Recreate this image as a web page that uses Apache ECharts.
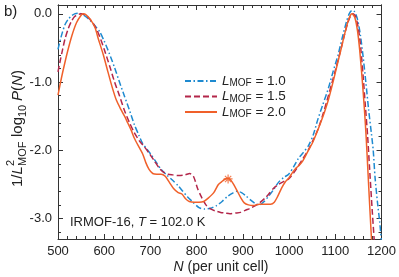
<!DOCTYPE html>
<html><head><meta charset="utf-8">
<script src="https://cdn.jsdelivr.net/npm/echarts@6/dist/echarts.min.js"></script>
<style>html,body{margin:0;padding:0;background:#fff}#c{width:399px;height:277px}</style>
</head><body><div id="c"></div>
<script>
// ---- data ----
const nL10 = [500,505,510,515,522,529,536,543,550,558,567,577,590,600,611,622,633,644,655,665,675,683,692,701,712,723,735,748,760,770,780,792,805,817,830,843,855,866,877,887,897,907,917,927,936,946,956,966,977,988,999,1010,1020,1031,1042,1052,1062,1073,1085,1095,1106,1115,1124,1130,1136,1142,1148,1154,1160,1166,1172,1178,1182,1186,1191,1196,1200];
const pL10 = [-0.52,-0.38,-0.26,-0.16,-0.08,-0.03,0.0,0.01,0.0,-0.03,-0.08,-0.15,-0.26,-0.4,-0.58,-0.78,-1.0,-1.21,-1.42,-1.62,-1.78,-1.9,-1.98,-2.06,-2.17,-2.28,-2.36,-2.44,-2.52,-2.6,-2.68,-2.76,-2.84,-2.86,-2.85,-2.81,-2.75,-2.68,-2.63,-2.6,-2.62,-2.67,-2.73,-2.78,-2.8,-2.75,-2.67,-2.58,-2.47,-2.4,-2.35,-2.24,-2.12,-2.03,-1.93,-1.78,-1.55,-1.33,-1.09,-0.85,-0.6,-0.35,-0.12,0.0,0.05,0.03,-0.08,-0.3,-0.62,-1.0,-1.4,-1.75,-2.0,-2.4,-2.75,-3.05,-3.35];

const nL15 = [500,505,510,515,522,529,536,543,550,556,565,575,583,590,600,612,622,633,644,655,665,676,687,698,708,719,728,738,748,762,775,785,793,802,810,820,830,841,852,862,872,884,895,905,916,927,938,948,956,966,977,988,999,1010,1020,1030,1042,1052,1062,1072,1082,1092,1102,1112,1120,1127,1133,1138,1144,1150,1155,1160,1165,1170,1174,1180,1185];
const pL15 = [-0.85,-0.68,-0.52,-0.37,-0.22,-0.11,-0.04,-0.01,0.0,-0.01,-0.05,-0.13,-0.22,-0.33,-0.52,-0.77,-0.99,-1.2,-1.42,-1.6,-1.74,-1.86,-1.95,-2.05,-2.15,-2.26,-2.32,-2.35,-2.36,-2.37,-2.36,-2.34,-2.38,-2.56,-2.68,-2.8,-2.86,-2.89,-2.91,-2.92,-2.93,-2.92,-2.91,-2.88,-2.85,-2.81,-2.76,-2.7,-2.64,-2.56,-2.5,-2.46,-2.42,-2.33,-2.23,-2.12,-1.99,-1.85,-1.7,-1.5,-1.27,-1.03,-0.78,-0.52,-0.3,-0.13,-0.03,0.0,-0.04,-0.22,-0.5,-0.9,-1.35,-1.8,-2.25,-2.9,-3.4];

const nL20 = [500,505,510,520,530,540,550,555,560,570,580,587,598,608,617,626,636,644,651,658,665,675,683,690,697,705,714,723,732,741,750,760,768,776,784,795,805,815,825,837,847,856,862,868,874,880,888,895,903,912,923,935,948,960,968,975,984,992,1000,1008,1015,1022,1030,1038,1045,1052,1060,1068,1077,1085,1095,1104,1113,1120,1127,1132,1136,1142,1148,1153,1158,1163,1167,1172,1178,1181];
const pL20 = [-1.19,-1.02,-0.86,-0.57,-0.32,-0.13,-0.02,0.0,-0.01,-0.08,-0.2,-0.36,-0.6,-0.85,-1.07,-1.26,-1.4,-1.5,-1.6,-1.7,-1.82,-1.95,-2.05,-2.18,-2.28,-2.34,-2.35,-2.35,-2.38,-2.47,-2.56,-2.62,-2.64,-2.71,-2.75,-2.76,-2.76,-2.75,-2.7,-2.62,-2.5,-2.45,-2.42,-2.41,-2.44,-2.5,-2.6,-2.69,-2.77,-2.8,-2.81,-2.79,-2.79,-2.79,-2.76,-2.68,-2.55,-2.46,-2.4,-2.32,-2.26,-2.22,-2.15,-2.05,-1.96,-1.87,-1.74,-1.6,-1.43,-1.26,-1.0,-0.75,-0.5,-0.3,-0.12,-0.03,0.0,-0.05,-0.25,-0.55,-0.95,-1.4,-1.84,-2.5,-3.27,-3.6];

const starN = [868];
const starP = [-2.42];

const seriesNames = ['1.0','1.5','2.0'];
const xTickLabels = [500,600,700,800,900,1000,1100,1200];
const yTickLabels = [-3,-2,-1,0];
const yMinorTicks = [-3.2,-3.0,-2.8,-2.6,-2.4,-2.2,-2.0,-1.8,-1.6,-1.4,-1.2,-1.0,-0.8,-0.6,-0.4,-0.2,0.0];

// ---- chart ----
const FONT = 'Liberation Sans, Arial, Helvetica, sans-serif';
const AX = '#333';
const zip = (a,b) => a.map((v,i)=>[v,b[i]]);
const colors = ['#1e8ad0','#b3264a','#f0602a'];

function xAx(pos, labels){
  return {type:'value', min:500, max:1200, interval:100, position:pos,
    axisLine:{show:true, onZero:false, lineStyle:{color:AX,width:1}},
    axisTick:{show:true, inside:true, length:5, lineStyle:{color:AX}},
    minorTick:{show:true, splitNumber:5, length:3, lineStyle:{color:AX}},
    axisLabel:{show:labels, fontSize:13, color:'#222', fontFamily:FONT, margin:6,
      customValues: xTickLabels, formatter: v => String(v)},
    splitLine:{show:false}, minorSplitLine:{show:false}};
}
function yAx(pos, major, labels){
  return {type:'value', min:-3.3, max:0.13, position:pos,
    axisLine:{show:true, onZero:false, lineStyle:{color:AX,width:1}},
    axisTick:{show:true, inside:true, length: major?5:3, lineStyle:{color:AX},
      customValues: major ? yTickLabels : yMinorTicks},
    axisLabel:{show:labels, fontSize:13, color:'#222', fontFamily:FONT, margin:6,
      customValues: yTickLabels, formatter: v => Number(v).toFixed(1)},
    splitLine:{show:false}};
}

const legendRich = {
  i:{fontStyle:'italic', fontSize:13.5, fontFamily:FONT, color:'#222', lineHeight:15},
  s:{fontSize:10, fontFamily:FONT, color:'#222', verticalAlign:'bottom', lineHeight:10},
  t:{fontSize:13.5, fontFamily:FONT, color:'#222', lineHeight:15}
};

const lineSeries = [[nL10,pL10,[6,2.5,1.5,2.5]],[nL15,pL15,[6,3]],[nL20,pL20,'solid']].map((d,k)=>({
  type:'line', name:seriesNames[k], data: zip(d[0],d[1]), symbol:'none', showSymbol:false,
  smooth:0.25, clip:true, z: 3+k,
  lineStyle:{color:colors[k], width:1.5, type:d[2]}, itemStyle:{color:colors[k]}
}));

const T = (x,y,text,extra) => Object.assign({type:'text', x, y, silent:true,
  style:Object.assign({text, fill:'#222', font:'15px '+FONT}, extra||{})});

const option = {
  animation:false,
  grid:{left:58, right:15, top:5, bottom:38},
  xAxis:[xAx('bottom',true), xAx('top',false)],
  yAxis:[yAx('left',true,true), yAx('left',false,false), yAx('right',true,false), yAx('right',false,false)],
  legend:{data:seriesNames, orient:'vertical', left:179, top:69, itemWidth:32, itemHeight:13, itemGap:1,
    itemStyle:{opacity:0},
    formatter: n => '{i|L}{s|MOF}{t| = '+n+'}', textStyle:{rich:legendRich, fontSize:13.5}},
  series: lineSeries.concat([{
    type:'scatter', name:'star', data: zip(starN,starP), z:10,
    symbol:'path://M5,0L5,10M0,5L10,5M1.5,1.5L8.5,8.5M1.5,8.5L8.5,1.5', symbolSize:9,
    itemStyle:{color:'transparent', borderColor:colors[2], borderWidth:1.2}
  }]),
  graphic:[
    T(4,4,'b)',{font:'15px '+FONT}),
    {type:'text', x:70, y:216, silent:true, style:{text:'{a|IRMOF-16, }{b|T}{a| = 102.0 K}', rich:{
      a:{fontSize:13, fontFamily:FONT, fill:'#222'}, b:{fontSize:13, fontFamily:FONT, fontStyle:'italic', fill:'#222'}}}},
    {type:'text', x:221, y:260, silent:true, style:{text:'{b|N}{a| (per unit cell)}', align:'center', rich:{
      a:{fontSize:14, fontFamily:FONT, fill:'#222'}, b:{fontSize:14, fontFamily:FONT, fontStyle:'italic', fill:'#222'}}}},
    {type:'group', x:18, y:187, rotation:Math.PI/2, silent:true, children:[
      T(0,0,'1/',{verticalAlign:'middle'}),
      T(12.5,0,'L',{verticalAlign:'middle', font:'italic 15px '+FONT}),
      T(21,-7,'2',{verticalAlign:'middle', font:'11px '+FONT}),
      T(21,5,'MOF',{verticalAlign:'middle', font:'11px '+FONT}),
      T(50,0,'log',{verticalAlign:'middle'}),
      T(70,5,'10',{verticalAlign:'middle', font:'11px '+FONT}),
      T(86,0,'P',{verticalAlign:'middle', font:'italic 15px '+FONT}),
      T(96,0,'(',{verticalAlign:'middle'}),
      T(101,0,'N',{verticalAlign:'middle', font:'italic 15px '+FONT}),
      T(112,0,')',{verticalAlign:'middle'})
    ]}
  ]
};
const chart = echarts.init(document.getElementById('c'), null, {renderer:'canvas'});
chart.setOption(option);
</script></body></html>
